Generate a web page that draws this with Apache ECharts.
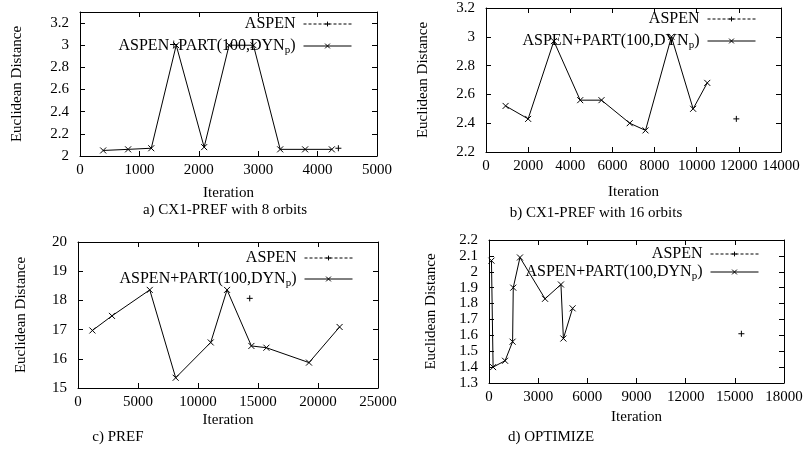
<!DOCTYPE html>
<html>
<head>
<meta charset="utf-8">
<script src="https://cdn.jsdelivr.net/npm/echarts@6/dist/echarts.min.js"></script>
<style>
  html, body { margin: 0; padding: 0; background: #fff; }
  #chart { width: 807px; height: 451px; }
</style>
</head>
<body>
<div id="chart"></div>
<script>
// === series names ===
const aspenName = 'ASPEN'
const partName = 'ASPEN+PART(100,DYN_p)'

// === a) CX1-PREF with 8 orbits ===
const cx8Part = [[390, 2.05], [810, 2.06], [1200, 2.07], [1620, 3.0], [2090, 2.08], [2510, 3.0], [2920, 3.0], [3370, 2.06], [3790, 2.06], [4240, 2.06]]
const cx8Aspen = [[4350, 2.07]]

// === b) CX1-PREF with 16 orbits ===
const cx16Part = [[930, 2.52], [2000, 2.43], [3220, 2.97], [4470, 2.56], [5480, 2.56], [6820, 2.4], [7570, 2.35], [8800, 3.0], [9830, 2.5], [10500, 2.68]]
const cx16Aspen = [[11880, 2.43]]

// === c) PREF ===
const prefPart = [[1200, 16.97], [2830, 17.47], [5980, 18.36], [8140, 15.35], [11060, 16.56], [12420, 18.36], [14450, 16.44], [15700, 16.38], [19250, 15.87], [21800, 17.09]]
const prefAspen = [[14310, 18.07]]

// === d) OPTIMIZE ===
const optPart = [[150, 2.07], [250, 1.4], [980, 1.44], [1440, 1.56], [1480, 1.9], [1890, 2.09], [3420, 1.83], [4390, 1.92], [4540, 1.58], [5100, 1.77]]
const optAspen = [[15400, 1.61]]

// === axis ranges / ticks ===
const xRanges = [[0, 5000, 1000], [0, 14000, 2000], [0, 25000, 5000], [0, 18000, 3000]]
const yRanges = [[2, 3.3, 0.2], [2.2, 3.2, 0.2], [15, 20, 1], [1.3, 2.2, 0.1]]
const captions = ['a) CX1-PREF with 8 orbits', 'b) CX1-PREF with 16 orbits', 'c) PREF', 'd) OPTIMIZE']

const panels = [
  { part: cx8Part, aspen: cx8Aspen, grid: { left: 80, top: 12, width: 297, height: 144 },
    xGap: 30, yGap: 55, legendTop: 11, legendGap: 6, cap: [225, 210] },
  { part: cx16Part, aspen: cx16Aspen, grid: { left: 486, top: 8, width: 295, height: 144 },
    xGap: 33, yGap: 55, legendTop: 6, legendGap: 6, cap: [596, 213] },
  { part: prefPart, aspen: prefAspen, grid: { left: 78, top: 242, width: 300, height: 146 },
    xGap: 25, yGap: 49, legendTop: 245, legendGap: 5, cap: [118, 437] },
  { part: optPart, aspen: optAspen, grid: { left: 489, top: 240, width: 295, height: 143 },
    xGap: 27, yGap: 50, legendTop: 241, legendGap: 2, cap: [551, 437] },
]

const FONT = 'Liberation Serif'
const plusSym = 'path://M0,5L10,5M5,0L5,10'
const crossSym = 'path://M0,0L10,10M0,10L10,0'

const chart = echarts.init(document.getElementById('chart'), null, { renderer: 'canvas' })

const grid = [], xAxis = [], yAxis = [], series = [], legend = [], graphic = []

function axisBase(show) {
  return {
    axisLine: { show: true, onZero: false, lineStyle: { color: '#000', width: 1 } },
    axisTick: { show: true, inside: true, length: 5, lineStyle: { color: '#000' } },
    axisLabel: { show, color: '#000', fontFamily: FONT, fontSize: 15, formatter: (v) => String(v) },
    splitLine: { show: false },
  }
}

panels.forEach((p, i) => {
  grid.push(p.grid)
  const [x0, x1, xi] = xRanges[i]
  const [y0, y1, yi] = yRanges[i]

  const xb = axisBase(true)
  xb.axisLabel.margin = 7
  xAxis.push({
    type: 'value', gridIndex: i, position: 'bottom', min: x0, max: x1, interval: xi,
    name: 'Iteration', nameLocation: 'middle', nameGap: p.xGap,
    nameTextStyle: { color: '#000', fontFamily: FONT, fontSize: 15 },
    ...xb,
  })
  xAxis.push({ type: 'value', gridIndex: i, position: 'top', min: x0, max: x1, interval: xi, ...axisBase(false) })

  const ylb = axisBase(true)
  ylb.axisLabel.showMaxLabel = i !== 0
  ylb.axisLabel.margin = 11
  yAxis.push({
    type: 'value', gridIndex: i, position: 'left', min: y0, max: y1, interval: yi,
    name: 'Euclidean Distance', nameLocation: 'middle', nameGap: p.yGap,
    nameTextStyle: { color: '#000', fontFamily: FONT, fontSize: 15 },
    ...ylb,
  })
  yAxis.push({ type: 'value', gridIndex: i, position: 'right', min: y0, max: y1, interval: yi, ...axisBase(false) })

  series.push({
    name: aspenName, type: 'line', xAxisIndex: i * 2, yAxisIndex: i * 2,
    data: p.aspen, symbol: plusSym, symbolSize: 6, showSymbol: true,
    lineStyle: { color: '#000', width: 1, type: [3, 2] },
    itemStyle: { color: '#000', borderColor: '#000', borderWidth: 1 },
    emphasis: { disabled: true },
  })
  series.push({
    name: partName, type: 'line', xAxisIndex: i * 2, yAxisIndex: i * 2,
    data: p.part, symbol: crossSym, symbolSize: 6, showSymbol: true,
    lineStyle: { color: '#000', width: 1 },
    itemStyle: { color: '#000', borderColor: '#000', borderWidth: 1 },
    emphasis: { disabled: true },
  })

  legend.push({
    data: [aspenName, partName],
    orient: 'vertical', align: 'right',
    right: 807 - (p.grid.left + p.grid.width) + 20, top: p.legendTop,
    itemWidth: 48, itemHeight: 6, itemGap: p.legendGap,
    selectedMode: false,
    lineStyle: { width: 1 },
    itemStyle: { borderWidth: 1 },
    textStyle: {
      color: '#000', fontFamily: FONT, fontSize: 16, padding: [0, 3, 0, 0],
      rich: { sub: { fontFamily: FONT, fontSize: 11, padding: [9, 0, 0, 0] } },
    },
    formatter: (name) => name === partName ? 'ASPEN+PART(100,DYN{sub|p})' : name,
  })

  graphic.push({
    type: 'text', x: p.cap[0], y: p.cap[1],
    style: { text: captions[i], fill: '#000', font: '15px "Liberation Serif"', textAlign: 'center', textVerticalAlign: 'middle' },
  })
})

chart.setOption({ animation: false, grid, xAxis, yAxis, series, legend, graphic })
window.addEventListener('resize', () => chart.resize())
</script>
</body>
</html>
